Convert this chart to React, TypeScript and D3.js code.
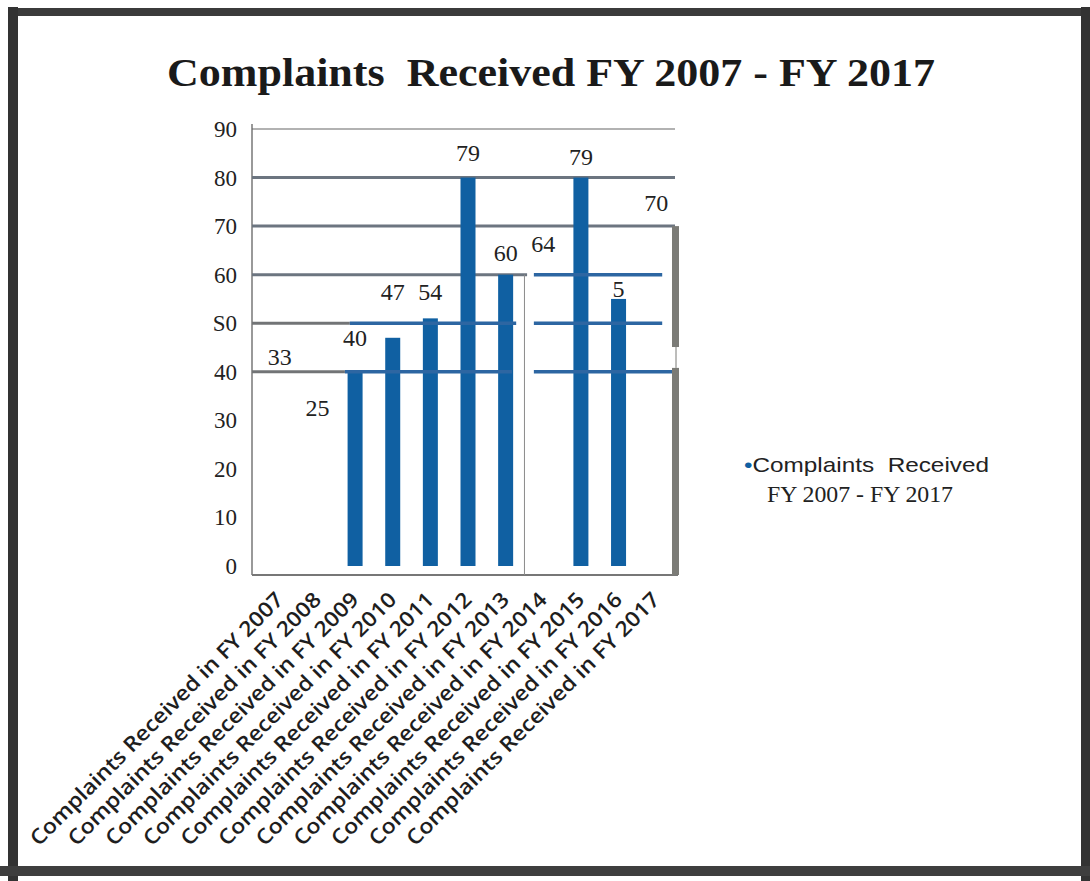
import React from 'react';
import * as d3 from 'd3';

// chart values
const categories = ['FY 2007', 'FY 2008', 'FY 2009', 'FY 2010', 'FY 2011', 'FY 2012', 'FY 2013', 'FY 2014', 'FY 2015', 'FY 2016', 'FY 2017'];
const barValues: (number | null)[] = [null, null, 40, 47, 51, 80, 60, null, 80, 55, null];
const labelTexts = ['33', '25', '40', '47', '54', '79', '60', '64', '79', '5', '70'];
// level (in axis units) where each data label sits
const labelLevels = [41.4, 30.9, 45.3, 54.8, 54.8, 83.4, 62.8, 64.7, 82.6, 55.4, 73.1];
const yTicks = [0, 10, 20, 30, 40, 50, 60, 70, 80, 90];
const yTickLabels = ['0', '10', '20', '30', '40', 'S0', '60', '70', '80', '90'];

// broken gridline pieces: level, start/end as category index
const graySegments = [
  { v: 90, from: -0.74, to: 10.5 },
  { v: 80, from: -0.74, to: 10.5 },
  { v: 70, from: -0.74, to: 10.5 },
  { v: 60, from: -0.74, to: 6.57 },
  { v: 50, from: -0.74, to: 1.86 },
  { v: 40, from: -0.74, to: 1.73 },
];
const blueSegments = [
  { v: 60, from: 6.75, to: 10.16 },
  { v: 50, from: 1.86, to: 6.28 },
  { v: 50, from: 6.75, to: 10.16 },
  { v: 40, from: 1.73, to: 6.17 },
  { v: 40, from: 6.75, to: 10.42 },
];

const title = 'Complaints  Received FY 2007 - FY 2017';
const legendLine1 = 'Complaints  Received';
const legendLine2 = 'FY 2007 - FY 2017';

export default function App() {
  const width = 1090;
  const height = 881;
  const plotLeft = 252;
  const plotRight = 676;
  const plotBottom = 575;

  const x = d3.scaleBand().domain(categories).range([261, 675]).padding(0);
  const xi = d3.scaleLinear().domain([-0.5, categories.length - 0.5]).range([261, 675]);
  const y = d3.scaleLinear().domain([0, 90]).range([566, 129]);
  const barW = 15;
  const blue = '#1060a2';
  const gray = '#727476';
  const pre = { whiteSpace: 'pre' as const };

  return (
    <svg width={width} height={height} style={{ position: 'absolute', left: 0, top: 0, background: '#fff' }}>
      {/* frame */}
      <rect x={8} y={7} width={10} height={874} fill="#333" />
      <rect x={18} y={8} width={1064} height={8} fill="#3b3b3b" />
      <rect x={1081} y={7} width={9} height={874} fill="#333" />
      <rect x={0} y={866} width={1090} height={10} fill="#3e3e3e" />

      <text x={551} y={86} textAnchor="middle" style={pre} fontFamily="'Liberation Serif', serif" fontWeight="bold" fontSize={40} textLength={768} lengthAdjust="spacingAndGlyphs" fill="#1a1a1a">
        {title}
      </text>

      {/* axes frame */}
      <line x1={plotLeft} x2={plotLeft} y1={124} y2={plotBottom} stroke="#777" strokeWidth={1.5} />
      <line x1={plotLeft} x2={plotRight + 2} y1={plotBottom} y2={plotBottom} stroke="#777" strokeWidth={2} />

      {yTicks.map((t, i) => (
        <text key={t} x={237} y={y(t) + 8} textAnchor="end" fontFamily="'Liberation Serif', serif" fontSize={23} fill="#222">
          {yTickLabels[i]}
        </text>
      ))}

      {graySegments.map((s, i) => (
        <line key={'g' + i} x1={Math.max(plotLeft, xi(s.from))} x2={xi(s.to)} y1={y(s.v)} y2={y(s.v)}
          stroke={s.v === 90 ? '#666' : s.v >= 60 ? '#6c7580' : gray} strokeWidth={s.v === 90 ? 1.2 : 3} />
      ))}

      {/* thin divider at the FY 2013 / FY 2014 boundary */}
      <line x1={xi(6.5)} x2={xi(6.5)} y1={y(60)} y2={plotBottom} stroke="#8a8a8a" strokeWidth={1} />

      {categories.map((c, i) => barValues[i] == null ? null : (
        <rect key={c} x={(x(c) as number) + x.bandwidth() / 2 - barW / 2} y={y(barValues[i] as number)}
          width={barW} height={y(0) - y(barValues[i] as number)} fill={blue} />
      ))}

      {blueSegments.map((s, i) => (
        <line key={'b' + i} x1={xi(s.from)} x2={xi(s.to)} y1={y(s.v)} y2={y(s.v)} stroke="#2d66a2" strokeWidth={3.5} />
      ))}

      {/* right edge bar */}
      <rect x={plotRight - 4} y={y(70)} width={7} height={y(45.1) - y(70)} fill="#7b7b76" />
      <line x1={plotRight} x2={plotRight} y1={y(45.1)} y2={y(40.8)} stroke="#7b7b76" strokeWidth={1} />
      <rect x={plotRight - 4} y={y(40.8)} width={7} height={plotBottom - y(40.8)} fill="#7b7b76" />

      {categories.map((c, i) => (
        <text key={'l' + c} x={(x(c) as number) + x.bandwidth() / 2} y={y(labelLevels[i])} textAnchor="middle"
          fontFamily="'Liberation Serif', serif" fontSize={24} fill="#222">
          {labelTexts[i]}
        </text>
      ))}

      {categories.map((c) => {
        const cx = (x(c) as number) + x.bandwidth() / 2 + 5;
        const cy = 601;
        return (
          <text key={'x' + c} x={cx} y={cy} transform={`rotate(-45 ${cx} ${cy})`} textAnchor="end"
            fontFamily="'Open Sans', sans-serif" fontWeight={600} fontSize={21} textLength={348} lengthAdjust="spacingAndGlyphs" fill="#1e1e1e">
            {`Complaints Received in ${c}`}
          </text>
        );
      })}

      {/* legend */}
      <text x={744} y={472} style={pre} fontFamily="'Liberation Sans', Arial, sans-serif" fontSize={21} fill="#222" textLength={245} lengthAdjust="spacingAndGlyphs">
        <tspan fill={blue}>•</tspan>{legendLine1}
      </text>
      <text x={767} y={502} fontFamily="'Liberation Serif', serif" fontSize={23} fill="#222" textLength={186} lengthAdjust="spacingAndGlyphs">
        {legendLine2}
      </text>
    </svg>
  );
}
